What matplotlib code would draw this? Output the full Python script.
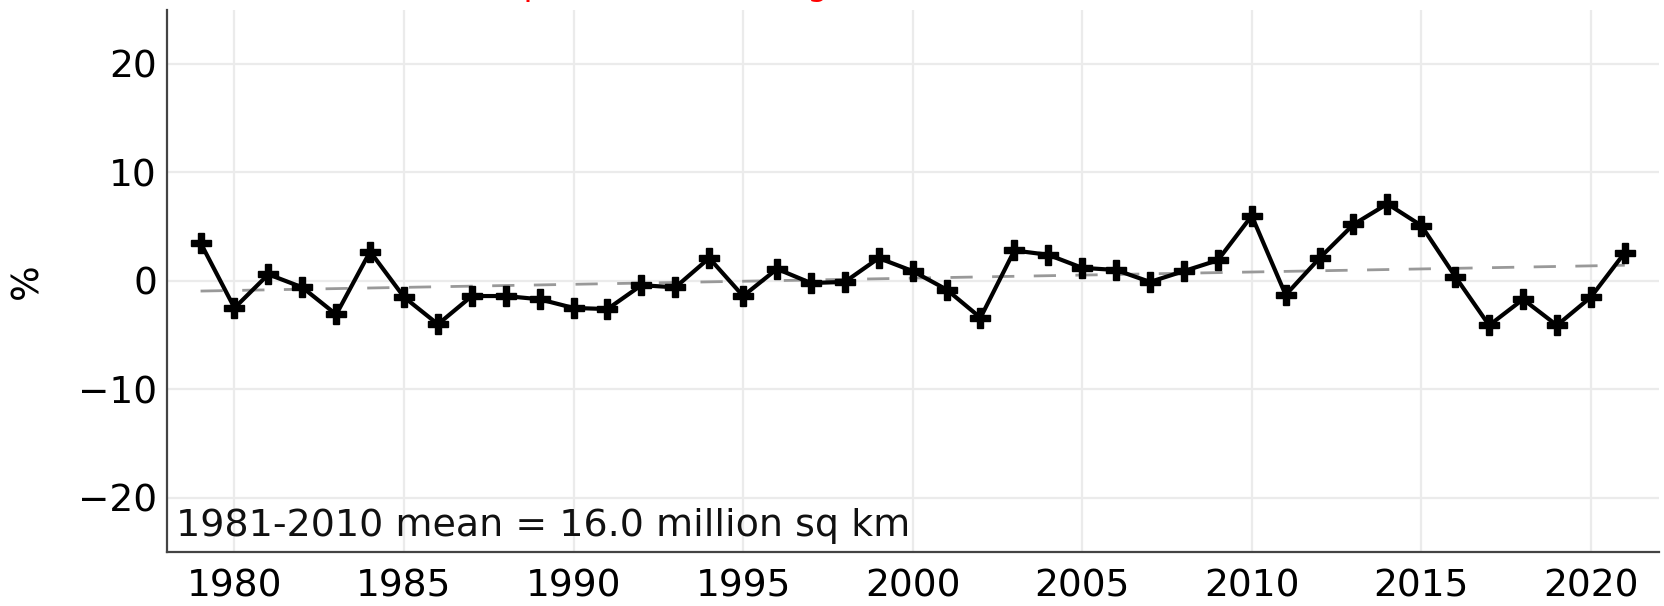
import numpy as np
import matplotlib
matplotlib.use("Agg")
import matplotlib.pyplot as plt

years = list(range(1979, 2022))
anomaly_pct = [3.5, -2.5, 0.6, -0.6, -3.1, 2.7, -1.5, -4.0, -1.4, -1.4,
               -1.7, -2.5, -2.6, -0.4, -0.6, 2.1, -1.4, 1.1, -0.2, -0.1,
               2.1, 0.9, -0.8, -3.4, 2.8, 2.4, 1.2, 1.0, -0.1, 0.9,
               1.9, 6.0, -1.3, 2.1, 5.2, 7.1, 5.1, 0.4, -4.1, -1.7,
               -4.1, -1.5, 2.6]
xticks = [1980, 1985, 1990, 1995, 2000, 2005, 2010, 2015, 2020]
yticks = [-20, -10, 0, 10, 20]
title_text = "Sea Ice Extent Departure from Long-term Mean"
mean_text = "1981-2010 mean = 16.0 million sq km"

plt.rcParams['font.family'] = ['DejaVu Sans']

fig = plt.figure(figsize=(16.65, 6.06), dpi=100)
ax = fig.add_axes([0.1001, 0.0891, 0.8961, 0.8949])

x = np.array(years, dtype=float)
y = np.array(anomaly_pct)
coef = np.polyfit(x, y, 1)
trend = np.polyval(coef, x)

ax.plot(x, trend, color='#999999', lw=2, dashes=(8, 7), zorder=2)
ax.plot(x, y, color='black', lw=3, marker='P', ms=15, mfc='black',
        mec='black', zorder=3)

ax.set_xlim(1978, 2022)
ax.set_ylim(-25, 25)
ax.set_xticks(xticks)
ax.set_yticks(yticks)
ax.tick_params(axis='x', length=0, pad=12, labelsize=27)
ax.tick_params(axis='y', length=0, pad=7, labelsize=27)
ax.grid(True, color='#ebebeb', lw=1.6, zorder=0)
ax.set_axisbelow(True)
for s in ['top', 'right']:
    ax.spines[s].set_visible(False)
for s in ['left', 'bottom']:
    ax.spines[s].set_color('#444444')
    ax.spines[s].set_linewidth(1.6)

ax.set_ylabel('%', fontsize=27)
ax.yaxis.set_label_coords(-0.081, 0.5)
ax.text(0.006, 0.0295, mean_text, transform=ax.transAxes, fontsize=27.4,
        ha='left', va='baseline', color='#111111')

fig.text(224 / 1665, 1 + 4.5 / 606, title_text, color='red', fontsize=24.2,
         ha='left', va='baseline')

fig.savefig('out.png', dpi=100)
